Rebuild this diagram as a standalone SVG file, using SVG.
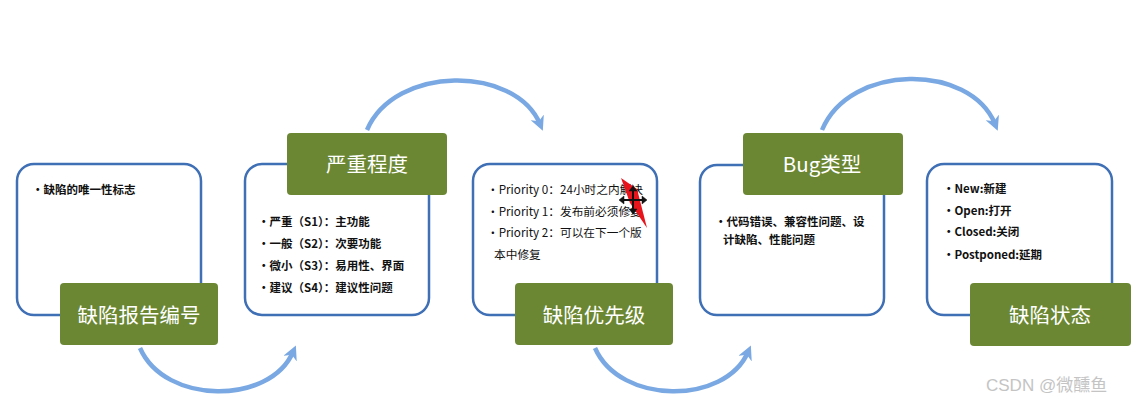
<svg xmlns="http://www.w3.org/2000/svg" width="1138" height="404" viewBox="0 0 1138 404">
<style>
.box{fill:#fff;stroke:#3f6fb5;stroke-width:2.5}
.lab{fill:#6b8733}
.lt{font-family:"Noto Sans CJK SC","Liberation Sans",sans-serif;font-size:20.5px;fill:#fff;text-anchor:middle;dominant-baseline:central}
.it{font-family:"Noto Sans CJK SC","Liberation Sans",sans-serif;font-size:11.5px;fill:#111;font-weight:bold}
.ip{font-family:"Noto Sans CJK SC","Liberation Sans",sans-serif;font-size:11.7px;fill:#111}
.arc{fill:none;stroke:#7aa8e2;stroke-width:4.5;marker-end:url(#ah)}
</style>
<defs>
<marker id="ah" viewBox="0 0 10 10" refX="5" refY="5" markerWidth="3.2" markerHeight="3.2" orient="auto" markerUnits="strokeWidth">
<path d="M0,0 L10,5 L0,10 L3,5 z" fill="#7aa8e2"/>
</marker>
</defs>
<rect width="1138" height="404" fill="#fff"/>
<g id="connectors">
<path class="arc" d="M367,130 C395,65 515,65 540,124"/>
<path class="arc" d="M140,348 C165,405 270,405 293,352"/>
<path class="arc" d="M822,130 C850,63 970,63 995,124"/>
<path class="arc" d="M595,348 C620,405 725,405 748,352"/>
</g>
<g id="node1">
<rect class="box" x="17" y="164" width="184" height="151" rx="17"/>
<text class="it" x="32" y="194" font-size="12">•缺陷的唯一性标志</text>
<rect class="lab" x="60" y="283" width="158" height="62" rx="4"/>
<text class="lt" x="139" y="314">缺陷报告编号</text>
</g>
<g id="node2">
<rect class="box" x="245" y="164" width="184" height="151" rx="17"/>
<rect class="lab" x="287" y="133" width="160" height="62" rx="4"/>
<text class="lt" x="367" y="163">严重程度</text>
<text class="it" x="258" y="226">•严重（S1）：主功能</text>
<text class="it" x="258" y="248">•一般（S2）：次要功能</text>
<text class="it" x="258" y="270">•微小（S3）：易用性、界面</text>
<text class="it" x="258" y="292">•建议（S4）：建议性问题</text>
</g>
<g id="node3">
<rect class="box" x="473" y="164" width="184" height="151" rx="17"/>
<text class="ip" x="487" y="194">•Priority 0：24小时之内解决</text>
<text class="ip" x="487" y="216">•Priority 1：发布前必须修复</text>
<text class="ip" x="487" y="237">•Priority 2：可以在下一个版</text>
<text class="ip" x="494" y="259">本中修复</text>
<rect class="lab" x="515" y="283" width="158" height="62" rx="4"/>
<text class="lt" x="594" y="314">缺陷优先级</text>
<polygon points="621,178 637,189 647,228 630,203" fill="#e8141c"/>
<g stroke="#111" stroke-width="2" fill="#111">
<line x1="621" y1="200" x2="645" y2="200"/>
<line x1="633" y1="188" x2="633" y2="212"/>
<path d="M619,200 l5,-4 v8 z M647,200 l-5,-4 v8 z M633,186 l-4,5 h8 z M633,214 l-4,-5 h8 z" stroke-width="0.5"/>
</g>
</g>
<g id="node4">
<rect class="box" x="700" y="165" width="184" height="150" rx="17"/>
<rect class="lab" x="743" y="133" width="160" height="62" rx="4"/>
<text class="lt" x="822" y="163">Bug类型</text>
<text class="it" x="715" y="226">•代码错误、兼容性问题、设</text>
<text class="it" x="723" y="244">计缺陷、性能问题</text>
</g>
<g id="node5">
<rect class="box" x="927" y="164" width="185" height="151" rx="17"/>
<text class="it" x="943" y="193">•New:新建</text>
<text class="it" x="943" y="215">•Open:打开</text>
<text class="it" x="943" y="236">•Closed:关闭</text>
<text class="it" x="943" y="259">•Postponed:延期</text>
<rect class="lab" x="970" y="283" width="161" height="63" rx="4"/>
<text class="lt" x="1050" y="314">缺陷状态</text>
</g>
<text x="986" y="391" font-family="'Liberation Sans','Noto Sans CJK SC',sans-serif" font-size="17" fill="#c4c4c4">CSDN @微醺鱼</text>
</svg>
